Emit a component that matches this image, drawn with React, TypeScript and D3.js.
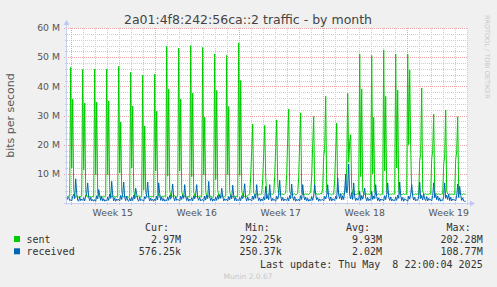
import React from "react";
import * as d3 from "d3";

// values in M bits/s, 2-hour steps, starting Sat 2025-04-05 16:00
const sentPre = [2.3, 2.2, 2.4, 2.3];
const receivedPre = [0.9, 1.8, 2.0, 0.8];

const sentDays: number[][] = [
  [46.5, 12.0, 35.7, 4.6, 2.3, 2.1, 2.4, 2.2, 2.0, 2.3, 2.2, 2.4],
  [45.8, 11.4, 34.3, 4.1, 2.2, 2.4, 2.1, 2.3, 2.2, 2.0, 2.3, 2.2],
  [45.9, 9.7, 34.6, 3.8, 2.4, 2.2, 2.0, 2.3, 2.1, 2.4, 2.2, 2.3],
  [45.9, 9.7, 35.0, 4.3, 2.1, 2.3, 2.2, 2.5, 2.2, 2.1, 2.3, 2.2],
  [46.9, 10.3, 27.8, 4.0, 2.3, 2.2, 2.4, 2.1, 2.3, 2.2, 2.0, 2.3],
  [44.8, 12.0, 33.3, 4.4, 2.2, 2.0, 2.3, 2.2, 2.4, 2.3, 2.1, 2.2],
  [43.8, 4.5, 26.4, 3.6, 2.3, 2.2, 2.1, 2.4, 2.2, 2.3, 2.2, 2.1],
  [44.2, 11.0, 31.5, 4.2, 2.4, 2.3, 2.2, 2.1, 2.3, 2.2, 2.4, 2.2],
  [53.7, 9.3, 39.0, 4.5, 2.2, 2.1, 2.3, 2.2, 2.5, 2.2, 2.1, 2.3],
  [53.1, 11.0, 35.7, 4.1, 2.3, 2.2, 2.4, 2.2, 2.1, 2.3, 2.2, 2.2],
  [54.0, 9.0, 37.7, 3.9, 2.1, 2.3, 2.2, 2.0, 2.2, 2.4, 2.3, 2.1],
  [53.4, 9.7, 29.4, 4.2, 2.2, 2.4, 2.3, 2.1, 2.3, 2.2, 2.0, 2.3],
  [51.1, 8.0, 38.6, 4.6, 2.3, 2.2, 2.1, 2.4, 2.2, 2.3, 2.2, 2.4],
  [50.6, 9.7, 33.1, 4.0, 2.2, 2.3, 2.2, 2.1, 2.4, 2.2, 2.3, 2.2],
  [54.9, 9.5, 42.0, 4.4, 2.4, 2.2, 2.3, 2.5, 2.2, 2.6, 2.8, 3.0],
  [9.0, 18.0, 27.1, 3.4, 3.0, 2.9, 3.2, 3.0, 2.8, 3.1, 3.0, 3.1],
  [8.0, 17.0, 26.6, 9.0, 3.1, 2.9, 3.1, 3.0, 2.8, 3.2, 3.0, 3.3],
  [9.0, 19.0, 28.5, 7.0, 3.1, 3.0, 2.8, 3.2, 3.0, 2.9, 3.1, 3.4],
  [10.0, 22.0, 32.2, 4.0, 3.2, 2.9, 3.1, 3.0, 3.2, 2.8, 3.0, 3.3],
  [9.0, 21.0, 30.9, 3.6, 3.0, 3.1, 2.9, 3.3, 3.0, 3.1, 2.9, 3.2],
  [4.0, 9.0, 19.7, 29.7, 3.5, 3.0, 3.2, 2.9, 3.1, 3.0, 3.3, 3.1],
  [5.0, 16.0, 18.5, 36.6, 4.2, 3.1, 2.9, 3.2, 3.0, 2.8, 3.1, 3.0],
  [8.0, 18.0, 27.4, 4.0, 3.2, 3.0, 3.1, 2.9, 3.3, 3.0, 3.6, 6.0],
  [12.0, 37.6, 14.0, 21.0, 23.4, 5.0, 3.2, 3.0, 3.1, 2.9, 3.0, 3.2],
  [3.0, 51.1, 9.0, 39.1, 4.2, 3.1, 3.0, 2.9, 3.2, 3.0, 3.1, 2.9],
  [3.1, 50.6, 10.0, 29.4, 4.0, 3.0, 3.2, 2.9, 3.1, 3.0, 2.8, 3.1],
  [3.0, 52.5, 11.0, 36.6, 4.1, 3.2, 2.9, 3.0, 3.1, 2.9, 3.2, 3.0],
  [3.1, 51.1, 12.0, 38.7, 4.3, 3.0, 3.1, 2.9, 3.0, 3.2, 2.9, 3.1],
  [3.0, 51.1, 20.0, 45.6, 19.0, 4.0, 3.1, 3.0, 2.9, 3.2, 3.0, 3.1],
  [2.9, 14.5, 17.0, 39.4, 4.0, 3.1, 3.0, 3.2, 2.9, 3.1, 3.0, 3.2],
  [3.0, 15.0, 18.0, 30.5, 3.8, 3.0, 3.2, 2.9, 3.1, 3.0, 2.9, 3.1],
  [3.1, 13.0, 16.5, 31.9, 4.0, 3.1, 2.9, 3.2, 3.0, 3.1, 3.0, 2.9],
  [3.0, 15.0, 17.5, 29.6, 3.9, 3.2, 3.0, 3.1, 2.9, 3.2, 3.0, 2.97],
];

const receivedDays: number[][] = [
  [1.1, 0.7, 2.3, 3.0, 1.5, 8.3, 3.4, 1.0, 0.6, 2.1, 0.8, 1.3],
  [0.9, 1.8, 0.7, 2.6, 3.2, 6.9, 2.0, 0.8, 1.9, 0.7, 1.2, 0.6],
  [1.2, 0.6, 2.5, 1.4, 4.6, 2.8, 0.9, 2.2, 0.7, 1.5, 0.6, 1.0],
  [0.8, 2.0, 0.9, 3.1, 1.6, 7.4, 2.5, 0.7, 1.8, 0.6, 1.4, 0.9],
  [1.3, 0.7, 2.6, 1.2, 3.0, 7.2, 1.9, 0.8, 2.3, 0.9, 0.6, 1.6],
  [0.7, 1.9, 0.8, 2.7, 1.4, 5.1, 3.0, 1.1, 0.6, 2.0, 0.8, 1.2],
  [1.0, 0.6, 2.2, 1.5, 2.9, 7.2, 2.1, 0.7, 1.7, 0.8, 1.3, 0.6],
  [1.4, 0.8, 2.4, 1.1, 6.9, 3.2, 0.9, 2.1, 0.7, 1.5, 0.6, 1.1],
  [0.8, 2.1, 0.9, 2.6, 1.3, 3.1, 6.5, 1.8, 0.7, 2.2, 0.9, 1.2],
  [1.1, 0.7, 2.3, 1.2, 2.8, 1.6, 6.3, 2.4, 0.8, 1.9, 0.6, 1.3],
  [0.9, 1.8, 0.7, 2.5, 1.4, 3.0, 6.3, 1.7, 0.9, 2.0, 0.7, 1.1],
  [1.2, 0.6, 2.4, 1.0, 2.7, 1.5, 7.4, 2.2, 0.8, 1.8, 0.6, 1.4],
  [0.8, 2.0, 0.9, 2.6, 1.3, 2.9, 1.6, 5.1, 2.3, 0.7, 1.5, 0.9],
  [1.3, 0.7, 2.2, 1.1, 2.8, 1.4, 6.1, 2.5, 0.8, 1.9, 0.7, 1.2],
  [0.9, 1.9, 0.8, 2.5, 1.5, 3.1, 6.6, 1.8, 0.7, 2.1, 0.9, 1.3],
  [1.1, 0.7, 2.4, 1.2, 2.9, 1.6, 6.3, 2.2, 0.8, 1.7, 0.6, 1.4],
  [0.8, 2.1, 1.0, 5.7, 1.4, 2.6, 1.1, 6.3, 2.0, 0.7, 1.6, 0.9],
  [1.2, 0.6, 2.3, 1.3, 2.8, 7.8, 2.4, 0.8, 1.9, 0.7, 1.4, 1.0],
  [0.9, 1.8, 0.7, 2.6, 1.5, 6.5, 2.1, 0.9, 2.2, 0.6, 1.3, 0.8],
  [1.3, 0.7, 2.5, 1.2, 6.3, 2.7, 1.0, 2.0, 0.7, 1.6, 0.6, 1.2],
  [0.8, 2.2, 0.9, 2.4, 6.3, 2.9, 1.1, 1.8, 0.6, 1.4, 0.8, 1.1],
  [1.2, 0.7, 2.3, 1.4, 2.7, 6.3, 2.0, 0.8, 2.1, 0.7, 1.5, 1.0],
  [0.9, 2.4, 1.3, 8.6, 2.8, 1.5, 3.2, 1.0, 2.5, 1.2, 4.0, 9.9],
  [3.5, 5.0, 13.4, 2.8, 1.4, 3.6, 1.2, 6.9, 2.1, 0.8, 1.7, 1.0],
  [1.1, 4.0, 0.9, 2.6, 1.3, 2.8, 5.1, 2.0, 0.7, 1.9, 0.8, 1.3],
  [0.9, 4.0, 1.2, 2.4, 1.5, 6.3, 2.2, 0.8, 1.8, 0.6, 1.4, 1.0],
  [1.2, 0.7, 2.5, 1.1, 2.9, 6.9, 2.0, 0.9, 2.1, 0.7, 1.3, 0.8],
  [0.8, 2.0, 0.9, 2.7, 1.6, 7.2, 2.6, 0.8, 1.9, 0.6, 1.5, 1.1],
  [1.0, 0.6, 2.4, 1.3, 3.0, 6.3, 2.3, 1.0, 2.0, 0.7, 1.2, 0.9],
  [2.1, 7.2, 1.5, 2.6, 1.0, 3.1, 1.4, 0.8, 2.2, 0.7, 1.6, 1.0],
  [1.2, 0.7, 2.5, 6.9, 1.8, 3.0, 1.1, 2.4, 0.8, 1.7, 0.6, 1.1],
  [0.9, 2.2, 6.9, 1.6, 2.7, 1.2, 3.1, 0.8, 2.0, 0.7, 1.4, 1.0],
  [1.1, 0.7, 2.4, 6.5, 1.9, 5.7, 2.6, 0.9, 1.8, 0.7, 0.6, 0.58],
];

const yTicks = [10, 20, 30, 40, 50, 60];
const weekLabels = ["Week 15", "Week 16", "Week 17", "Week 18", "Week 19"];
const legendHeaders = ["Cur:", "Min:", "Avg:", "Max:"];
const seriesNames = ["sent", "received"];
const seriesColors = ["#00CC00", "#0066B3"];
const sentStats = ["2.97M", "292.25k", "9.93M", "202.28M"];
const receivedStats = ["576.25k", "250.37k", "2.02M", "108.77M"];

const TITLE = "2a01:4f8:242:56ca::2 traffic - by month";
const LAST_UPDATE = "Last update: Thu May  8 22:00:04 2025";

export default function App() {
  const left = 67, right = 467, top = 28, bottom = 203;
  const x = d3
    .scaleUtc()
    .domain([new Date(Date.UTC(2025, 3, 5, 16, 36)), new Date(Date.UTC(2025, 4, 9, 0, 36))])
    .range([left, right]);
  const y = d3.scaleLinear().domain([0, 60]).range([bottom, top]);

  const t0 = Date.UTC(2025, 3, 5, 16, 0);
  const step = 2 * 3600 * 1000;
  const mk = (pre: number[], days: number[][]) =>
    [...pre, ...days.flat()].map((v, i) => ({ t: new Date(t0 + i * step), v }));
  const sent = mk(sentPre, sentDays);
  const received = mk(receivedPre, receivedDays);
  const line = d3
    .line<{ t: Date; v: number }>()
    .x((d) => x(d.t))
    .y((d) => y(d.v));

  const days = d3.utcDay.range(new Date(Date.UTC(2025, 3, 6)), new Date(Date.UTC(2025, 4, 9, 1)));
  const weeks = d3.utcSunday.range(new Date(Date.UTC(2025, 3, 6)), new Date(Date.UTC(2025, 4, 9, 1)));
  const minorY = d3.range(2, 60, 2).filter((v) => v % 10 !== 0);

  const font = "DejaVu Sans";
  const mono = "DejaVu Sans Mono";
  const valueEnds = [181, 281.7, 382, 482.7];
  const minorC = "#CDCDCD";
  const majorC = "#EBA3A3";

  return (
    <svg
      width={497}
      height={287}
      style={{ position: "absolute", left: 0, top: 0 }}
      xmlns="http://www.w3.org/2000/svg"
    >
      <defs>
        <clipPath id="plot">
          <rect x={left} y={top - 2} width={right - left} height={bottom - top + 2} />
        </clipPath>
      </defs>
      <rect x={0} y={0} width={497} height={287} fill="#F0F0F0" />
      <rect x={left} y={top} width={right - left} height={bottom - top} fill="#FFFFFF" />

      {/* minor grid */}
      {minorY.map((v) => (
        <line key={"my" + v} x1={left - 2} x2={right} y1={Math.round(y(v)) + 0.5} y2={Math.round(y(v)) + 0.5}
          stroke={minorC} strokeDasharray="1,1" strokeWidth={1} />
      ))}
      {days.map((d) => (
        <line key={"mx" + +d} x1={Math.round(x(d)) + 0.5} x2={Math.round(x(d)) + 0.5} y1={top} y2={bottom + 2}
          stroke={minorC} strokeDasharray="1,1" strokeWidth={1} />
      ))}
      {/* major grid */}
      {yTicks.map((v) => (
        <line key={"My" + v} x1={left - 3} x2={right} y1={Math.round(y(v)) + 0.5} y2={Math.round(y(v)) + 0.5}
          stroke={majorC} strokeDasharray="1,1" strokeWidth={1} />
      ))}
      {weeks.map((d) => (
        <line key={"Mx" + +d} x1={Math.round(x(d)) + 0.5} x2={Math.round(x(d)) + 0.5} y1={top} y2={bottom + 3}
          stroke={majorC} strokeDasharray="1,1" strokeWidth={1} />
      ))}

      <g clipPath="url(#plot)">
        <path d={line(sent) || ""} fill="none" stroke={seriesColors[0]} strokeWidth={1} />
        <path d={line(received) || ""} fill="none" stroke={seriesColors[1]} strokeWidth={1} />
      </g>

      {/* axes */}
      <line x1={left - 0.5} x2={left - 0.5} y1={bottom + 2} y2={top - 4} stroke="#C8D0F0" strokeWidth={1} />
      <line x1={left - 3} x2={right + 3} y1={bottom + 0.5} y2={bottom + 0.5} stroke="#C8D0F0" strokeWidth={1} />
      <path d={`M${left - 3.5},${top - 3} L${left - 0.5},${top - 8} L${left + 2.5},${top - 3} Z`} fill="#C0C8F0" />
      <path d={`M${right + 3},${bottom - 2.5} L${right + 8},${bottom + 0.5} L${right + 3},${bottom + 3.5} Z`} fill="#C0C8F0" />

      {/* y labels */}
      {yTicks.map((v) => (
        <text key={"yl" + v} x={60} y={y(v) + 3.3} textAnchor="end" fontFamily={font} fontSize={9.3} fill="#555">
          {`${v} M`}
        </text>
      ))}
      <text transform={`translate(13.5,${(top + bottom) / 2}) rotate(-90)`} textAnchor="middle"
        fontFamily={font} fontSize={11} fill="#555">bits per second</text>

      {/* week labels */}
      {weeks.map((d, i) => (
        <text key={"wl" + i} x={x(d3.utcHour.offset(d, 84))} y={215.5} textAnchor="middle"
          fontFamily={font} fontSize={9.3} fill="#555">{weekLabels[i]}</text>
      ))}

      {/* title */}
      <text x={248} y={23.5} textAnchor="middle" fontFamily={font} fontSize={12.5} fill="#444">{TITLE}</text>

      {/* watermark */}
      <text transform="translate(485,15) rotate(90)" fontFamily={font} fontSize={6.5} fill="#C8C8C8">
        RRDTOOL / TOBI OETIKER
      </text>

      {/* legend */}
      {legendHeaders.map((h, i) => (
        <text key={"lh" + i} x={valueEnds[i] - 12} y={231.2} textAnchor="end" fontFamily={mono} fontSize={10}
          fill="#333">{h}</text>
      ))}
      {seriesNames.map((n, r) => (
        <g key={"ls" + r}>
          <rect x={14} y={236 + r * 12.3} width={6} height={6} fill={seriesColors[r]} />
          <text x={26.5} y={242.8 + r * 12.3} fontFamily={mono} fontSize={10} fill="#333">{n}</text>
          {(r === 0 ? sentStats : receivedStats).map((s, i) => (
            <text key={i} x={valueEnds[i]} y={242.8 + r * 12.3} textAnchor="end" fontFamily={mono} fontSize={10}
              fill="#333">{s}</text>
          ))}
        </g>
      ))}
      <text x={482.7} y={267.6} textAnchor="end" fontFamily={mono} fontSize={10} fill="#333"
        style={{ whiteSpace: "pre" }}>{LAST_UPDATE}</text>
      <text x={248} y={279} textAnchor="middle" fontFamily={font} fontSize={7.5} fill="#C8C8C8">Munin 2.0.67</text>
    </svg>
  );
}
